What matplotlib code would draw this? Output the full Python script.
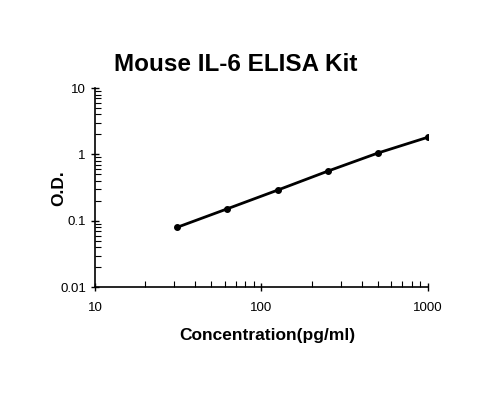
import numpy as np
import matplotlib.pyplot as plt

# standard curve points
conc = [31.25, 62.5, 125, 250, 500, 1000]
od = [0.080, 0.152, 0.29, 0.56, 1.05, 1.82]

plt.rcParams['font.family'] = ['Liberation Sans', 'DejaVu Sans']

fig = plt.figure(figsize=(4.82, 3.95), dpi=100)
ax = fig.add_axes([0.197, 0.273, 0.691, 0.504])

ax.plot(conc, od, color='black', lw=2, marker='o', ms=4)
ax.set_xscale('log')
ax.set_yscale('log')
ax.set_xlim(10, 1000)
ax.set_ylim(0.01, 10)
ax.set_xticks([10, 100, 1000])
ax.set_xticklabels(['10', '100', '1000'])
ax.set_yticks([0.01, 0.1, 1, 10])
ax.set_yticklabels(['0.01', '0.1', '1', '10'])

for s in ['top', 'right']:
    ax.spines[s].set_visible(False)
for s in ['left', 'bottom']:
    ax.spines[s].set_linewidth(1.2)

ax.tick_params(which='major', direction='inout', length=6, width=1, labelsize=9.5)
ax.tick_params(which='minor', direction='in', length=4, width=0.8)
ax.tick_params(axis='x', which='major', pad=8)

ax.set_xlabel('Concentration(pg/ml)', fontsize=12.5, fontweight='bold')
ax.set_ylabel('O.D.', fontsize=12.5, fontweight='bold')
ax.xaxis.set_label_coords(0.518, -0.206)
ax.yaxis.set_label_coords(-0.087, 0.5)
fig.suptitle('Mouse IL-6 ELISA Kit', fontsize=17.5, fontweight='bold', x=0.49, y=0.865)

fig.savefig('out.png', dpi=100)
